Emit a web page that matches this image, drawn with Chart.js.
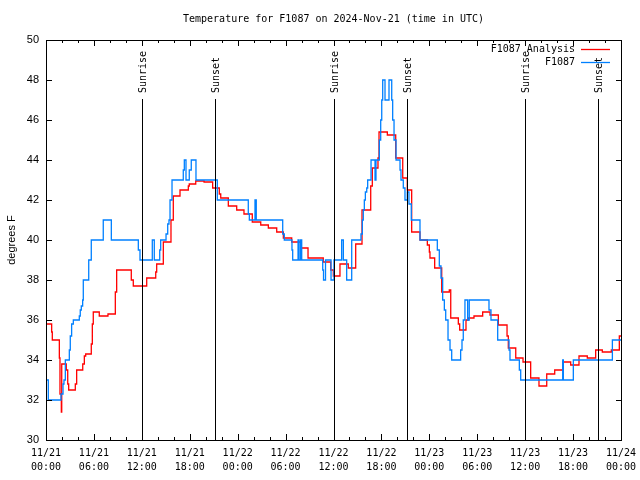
<!DOCTYPE html>
<html>
<head>
<meta charset="utf-8">
<title>Temperature for F1087</title>
<script src="https://cdn.jsdelivr.net/npm/chart.js@4"></script>
<style>
  html, body { margin: 0; padding: 0; background: #fff; overflow: hidden; }
  canvas { display: block; }
</style>
</head>
<body>
<canvas id="tempChart" width="640" height="480"></canvas>
<script>
// hours since 11/21 00:00 UTC, values hold until the next point
const obsHours = [0, 0.29, 1.88, 2.13, 2.25, 2.42, 2.92, 3.04, 3.21, 3.42, 4.17, 4.29, 4.42, 4.59, 4.67, 5.35, 5.67, 7.17, 8.18, 11.56,
  11.77, 13.31, 13.56, 14.24, 14.36, 15.03, 15.24, 15.4, 15.53, 15.78, 17.19, 17.32, 17.53, 17.94, 18.19, 18.78, 21.45, 25.33, 25.46, 26.17,
  26.33, 29.64, 29.84, 30.8, 30.89, 31.56, 31.68, 31.87, 32.02, 34.65, 34.75, 35.0, 35.69, 36.06, 37.02, 37.23, 37.65, 38.28, 39.44, 39.61,
  39.73, 39.86, 39.99, 40.16, 40.28, 40.7, 41.2, 41.32, 41.74, 41.91, 42.04, 42.16, 42.45, 42.95, 43.29, 43.41, 43.58, 43.83, 44.33, 44.45,
  44.74, 44.95, 45.24, 45.45, 45.74, 46.83, 49.0, 49.25, 49.46, 49.67, 49.88, 50.05, 50.34, 50.59, 50.8, 51.92, 52.09, 52.25, 52.46, 52.8,
  53.0, 55.47, 55.72, 56.56, 57.98, 58.1, 59.27, 59.44, 64.7, 64.78, 66.03, 70.92, 72];
const obsTemps = [33.0, 32.0, 32.3, 32.8, 33.0, 34.0, 34.5, 35.2, 35.8, 36.0, 36.2, 36.5, 36.7, 37.0, 38.0, 39.0, 40.0, 41.0, 40.0, 39.5,
  39.0, 40.0, 39.0, 39.5, 40.0, 40.3, 40.8, 41.0, 42.0, 43.0, 43.5, 44.0, 43.0, 43.5, 44.0, 43.0, 42.0, 41.3, 41.0, 42.0,
  41.0, 40.3, 40.0, 39.5, 39.0, 40.0, 39.0, 40.0, 39.0, 38.5, 38.0, 39.0, 38.0, 39.0, 40.0, 39.0, 38.0, 40.0, 40.3, 41.0,
  41.5, 42.0, 42.4, 42.6, 43.0, 44.0, 43.0, 44.0, 45.0, 46.0, 47.0, 48.0, 47.0, 48.0, 47.0, 46.0, 45.0, 44.0, 43.5, 43.0,
  42.6, 42.0, 42.4, 41.8, 41.0, 40.0, 39.5, 38.7, 38.1, 37.0, 36.5, 36.0, 35.0, 34.5, 34.0, 34.5, 35.0, 36.0, 37.0, 36.0,
  37.0, 36.5, 36.0, 35.0, 34.5, 34.0, 33.5, 33.0, 34.0, 33.0, 34.0, 35.0, 35.0];

const anaHours = [0, 0.71, 0.79, 1.67, 1.75, 1.92, 1.97, 2.54, 2.72, 2.84, 3.67, 3.84, 4.6, 4.8, 4.97, 5.67, 5.8, 5.92, 6.67, 7.76,
  8.68, 8.85, 10.68, 10.93, 12.61, 13.74, 13.86, 14.69, 15.65, 15.94, 16.78, 17.82, 17.94, 18.75, 19.79, 20.87, 21.7, 21.88, 22.83, 23.88,
  24.79, 25.83, 26.89, 27.84, 28.89, 29.72, 30.77, 31.89, 32.81, 34.72, 35.65, 35.98, 36.81, 37.85, 38.78, 39.57, 40.66, 40.86, 41.57, 41.7,
  42.74, 43.79, 44.67, 45.24, 45.79, 46.83, 47.75, 48.0, 48.08, 48.67, 49.55, 50.5, 50.68, 51.63, 51.8, 52.59, 52.88, 53.59, 54.68, 55.6,
  56.64, 57.73, 57.89, 58.82, 59.73, 60.69, 61.73, 62.7, 63.7, 64.74, 65.7, 66.74, 67.78, 68.83, 69.66, 70.79, 71.79, 72];
const anaTemps = [35.8, 35.4, 35.0, 34.1, 32.3, 31.4, 33.8, 33.5, 32.8, 32.5, 32.8, 33.5, 33.8, 34.2, 34.3, 34.8, 35.8, 36.4, 36.2, 36.3,
  37.4, 38.5, 38.0, 37.7, 38.1, 38.4, 38.8, 39.9, 41.0, 42.2, 42.5, 42.7, 42.8, 42.95, 42.9, 42.6, 42.3, 42.1, 41.7, 41.5,
  41.3, 40.9, 40.75, 40.6, 40.4, 40.1, 39.9, 39.6, 39.1, 38.9, 38.5, 38.2, 38.8, 38.6, 39.8, 41.5, 42.7, 43.6, 44.1, 45.4,
  45.25, 44.1, 43.1, 42.5, 40.4, 40.0, 39.75, 39.4, 39.1, 38.6, 37.4, 37.5, 36.1, 35.8, 35.5, 36.0, 36.1, 36.2, 36.4, 36.25,
  35.75, 35.2, 34.6, 34.1, 33.9, 33.1, 32.7, 33.3, 33.5, 33.9, 33.75, 34.2, 34.1, 34.5, 34.4, 34.5, 35.2, 35.2];

const sunHours = [12.02, 21.16, 36.06, 45.2, 59.98, 69.1];
const sunLabels = ["Sunrise", "Sunset", "Sunrise", "Sunset", "Sunrise", "Sunset"];

const dayLabels = ["11/21", "11/21", "11/21", "11/21", "11/22", "11/22", "11/22", "11/22", "11/23", "11/23", "11/23", "11/23", "11/24"];
const timeLabels = ["00:00", "06:00", "12:00", "18:00", "00:00", "06:00", "12:00", "18:00", "00:00", "06:00", "12:00", "18:00", "00:00"];

const monoFont = "10px 'DejaVu Sans Mono', monospace";

function toPoints(xs, ys) {
  return xs.map(function (x, i) { return { x: x, y: ys[i] }; });
}

// gnuplot-like frame, inward ticks, sun markers, title and legend
const gnuplotDecor = {
  id: 'gnuplotDecor',
  afterDatasetsDraw: function (chart) {
    const ctx = chart.ctx;
    const area = chart.chartArea;
    const xs = chart.scales.x;
    const ys = chart.scales.y;
    const L = Math.round(area.left);
    const R = Math.round(area.right);
    const T = Math.round(area.top);
    const B = Math.round(area.bottom);

    ctx.save();
    ctx.fillStyle = '#000';

    // frame, 1px rectangles so it stays crisp
    ctx.fillRect(L, T, R - L + 1, 1);
    ctx.fillRect(L, B, R - L + 1, 1);
    ctx.fillRect(L, T, 1, B - T + 1);
    ctx.fillRect(R, T, 1, B - T + 1);

    // inward ticks on all four sides
    for (let v = 30; v <= 50; v += 2) {
      const py = Math.round(ys.getPixelForValue(v));
      ctx.fillRect(L, py, 6, 1);
      ctx.fillRect(R - 5, py, 6, 1);
    }
    for (let h = 0; h <= 72; h += 2) {
      const px = Math.round(xs.getPixelForValue(h));
      const len = h % 6 === 0 ? 6 : 3;
      ctx.fillRect(px, B - len, 1, len);
      ctx.fillRect(px, T, 1, len);
    }

    // sunrise / sunset markers
    ctx.font = monoFont;
    sunHours.forEach(function (h, i) {
      const px = Math.round(xs.getPixelForValue(h));
      ctx.fillRect(px, T + 59, 1, B - T - 59);
      ctx.save();
      ctx.translate(px + 1.5, T + 53);
      ctx.rotate(-Math.PI / 2);
      ctx.textAlign = 'left';
      ctx.textBaseline = 'middle';
      ctx.fillText(sunLabels[i], 0, 0);
      ctx.restore();
    });

    // title
    ctx.textAlign = 'center';
    ctx.textBaseline = 'middle';
    ctx.fillText('Temperature for F1087 on 2024-Nov-21 (time in UTC)', (area.left + area.right) / 2, 19);

    // y axis title
    ctx.save();
    ctx.translate(12, (area.top + area.bottom) / 2);
    ctx.rotate(-Math.PI / 2);
    ctx.font = "11px 'Liberation Sans', Arial, sans-serif";
    ctx.fillText('degrees F', 0, 0);
    ctx.restore();

    // legend
    const items = chart.data.datasets.slice().reverse();
    items.forEach(function (ds, i) {
      const ly = 49 + i * 13;
      ctx.textAlign = 'right';
      ctx.fillStyle = '#000';
      ctx.fillText(ds.label, 575, ly);
      ctx.strokeStyle = ds.borderColor;
      ctx.lineWidth = 1.3;
      ctx.beginPath();
      ctx.moveTo(581, ly + 0.5);
      ctx.lineTo(610, ly + 0.5);
      ctx.stroke();
    });

    ctx.restore();
  }
};

new Chart("tempChart", {
  type: "line",
  data: {
    datasets: [{
      label: "F1087",
      data: toPoints(obsHours, obsTemps),
      borderColor: "#0080ff",
      borderWidth: 1.3,
      pointRadius: 0,
      stepped: 'before',
      fill: false,
      order: 0
    }, {
      label: "F1087 Analysis",
      data: toPoints(anaHours, anaTemps),
      borderColor: "#ff0000",
      borderWidth: 1.3,
      pointRadius: 0,
      stepped: 'before',
      fill: false,
      order: 1
    }]
  },
  options: {
    responsive: false,
    animation: false,
    layout: { padding: { top: 40, right: 19, left: 0, bottom: 0 } },
    plugins: {
      legend: { display: false },
      tooltip: { enabled: false }
    },
    scales: {
      x: {
        type: 'linear',
        min: 0,
        max: 72,
        grid: { display: false, drawTicks: false },
        border: { display: false },
        afterFit: function (scale) {
          scale.height = 40;
          // keep the plot edges where the layout padding puts them
          scale.paddingLeft = 0;
          scale.paddingRight = 0;
        },
        ticks: {
          stepSize: 6,
          autoSkip: false,
          maxRotation: 0,
          padding: 6,
          color: '#000',
          font: { family: "'DejaVu Sans Mono', monospace", size: 10, lineHeight: 1.4 },
          callback: function (v) {
            const i = Math.round(v / 6);
            return [dayLabels[i], timeLabels[i]];
          }
        }
      },
      y: {
        min: 30,
        max: 50,
        grid: { display: false, drawTicks: false },
        border: { display: false },
        afterFit: function (scale) { scale.width = 46; },
        ticks: {
          stepSize: 2,
          padding: 7,
          color: '#000',
          font: { family: "'Liberation Sans', Arial, sans-serif", size: 11 }
        }
      }
    }
  },
  plugins: [gnuplotDecor]
});
</script>
</body>
</html>
